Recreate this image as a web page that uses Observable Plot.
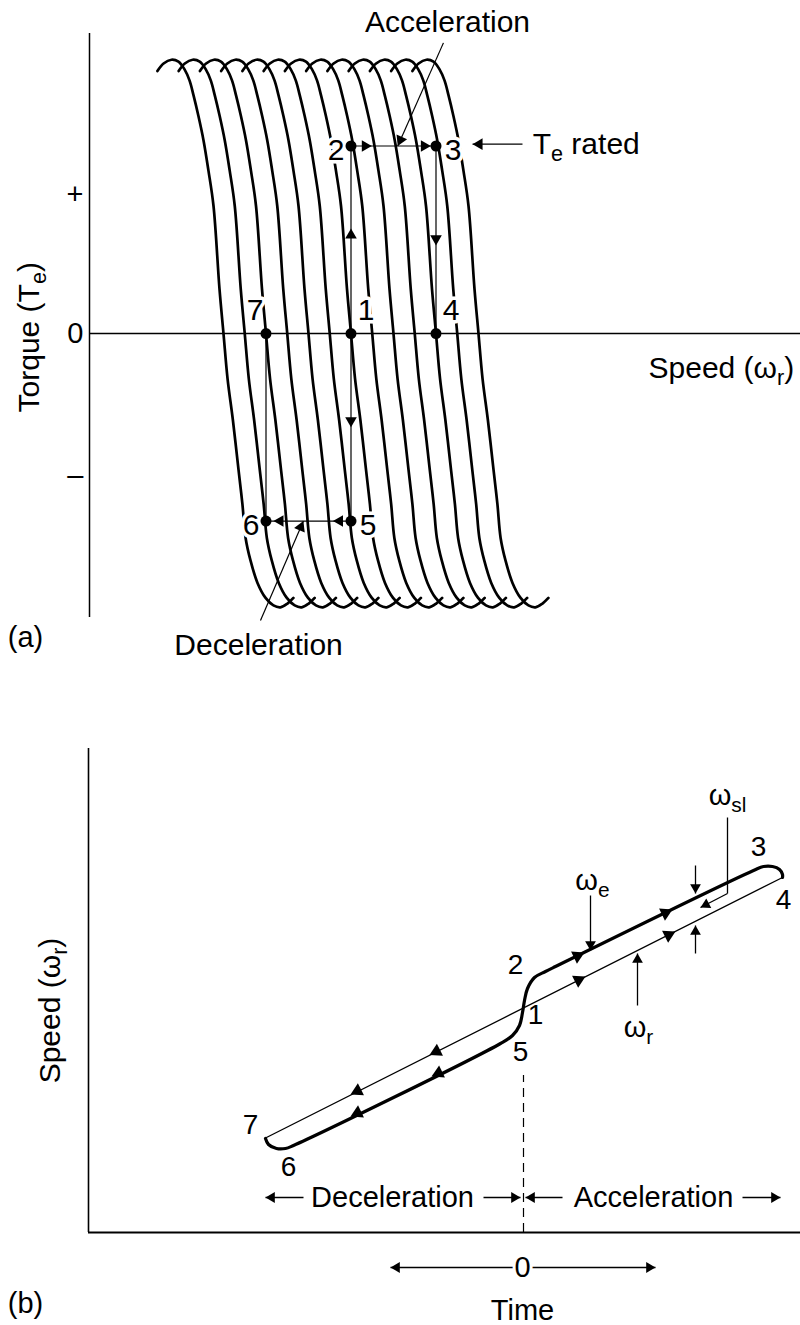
<!DOCTYPE html>
<html><head><meta charset="utf-8">
<script src="https://cdn.jsdelivr.net/npm/d3@7"></script>
<script src="https://cdn.jsdelivr.net/npm/@observablehq/plot@0.6"></script>
<style>
html,body{margin:0;padding:0;background:#fff;}
#chart svg{display:block;}
</style></head><body><div id="chart"></div>
<script>
// ================= DATA =================
// Panel (a): torque-speed curves, one per synchronous speed (curve spacing = 1 speed unit)
const syncSpeeds = [0,1,2,3,4,5,6,7,8,9,10,11,12];
// shape of one curve: speed offset from its synchronous speed, torque (rated = 1)
const curveSlip   = [-3.11,-2.82,-2.45,-2.12,-1.84,-1.60,-1.41,-1.18,-0.94,-0.71,-0.47,-0.19,0,0.19,0.44,0.71,0.89,1.04,1.27,1.60,1.98,2.35,2.68,3.01,3.29];
const curveTorque = [1.40,1.44,1.46,1.45,1.41,1.35,1.27,1.16,1.03,0.87,0.68,0.24,0,-0.24,-0.46,-0.73,-0.91,-1.09,-1.21,-1.33,-1.41,-1.45,-1.46,-1.44,-1.41];
// operating points
const stateIds    = ["1","2","3","4","5","6","7"];
const stateSpeed  = [6,6,10,10,6,2,2];
const stateTorque = [0,1,1,0,-1,-1,0];
const stateLabelSide = ["ne","w","e","ne","e","w","nw"];
const pathPairs = [["1","2"],["2","3"],["3","4"],["1","5"],["5","6"],["6","7"]];
// arrow heads on the path: [tipSpeed, tipTorque, fromSpeed, fromTorque]
const aPathHeads = [[6,0.56,6,0],[6.98,1,6,1],[9.76,1,6,1],[10,0.47,10,1],[6,-0.5,6,0],[5.15,-1,6,-1],[2.35,-1,6,-1]];
// y tick labels
const aTickValues = [0.74, 0, -0.76];
const aTickLabels = ["+", "0", "\u2013"];
// annotations
const aNoteText   = ["Acceleration", "Deceleration"];
const aNoteX      = [10.54, 1.65];
const aNoteY      = [1.659, -1.664];
const ratedText = "T_{e} rated", ratedX = 14.55, ratedY = 1.01;
const aNoteFrom   = [[10.35,1.55],[1.74,-1.53],[14.07,1.01]];
const aNoteTip    = [[8.2,1.0],[3.76,-1.0],[11.72,1.01]];

// Panel (b): speed vs time
const rotorTime  = [-5.14, 5.2];
const rotorSpeed = [1.89, 7.10];
const statorTime  = [-5.14,-5.08,-4.92,-4.74,-4.58,-0.44,-0.2,-0.06,0,0.04,0.1,0.24,0.46,0.66,4.62,4.82,5.0,5.14,5.2,5.2];
const statorSpeed = [1.88,1.76,1.68,1.68,1.74,3.78,3.94,4.14,4.40,4.64,4.88,5.10,5.22,5.32,7.24,7.32,7.32,7.26,7.16,7.10];
// arrow heads on the two traces: [tipTime, tipSpeed, fromTime, fromSpeed]
const bLineHeads = [
  [1.24,5.60,0.66,5.32],[3.0,6.46,0.66,5.32],
  [1.26,5.12,-5.14,1.89],[3.06,6.02,-5.14,1.89],
  [-1.82,3.12,-0.44,3.78],[-3.44,2.32,-0.44,3.78],
  [-1.86,3.55,5.2,7.1],[-3.44,2.76,5.2,7.1]
];
// leader arrows: [tipTime, tipSpeed, fromTime, fromSpeed]
const bLeaders = [
  [1.36,5.64,1.36,6.74],[2.3,5.58,2.3,4.54],[3.56,6.5,4.1,6.78],
  [3.46,6.78,3.46,7.34],[3.46,6.14,3.46,5.58],
  [-5.14,0.7,-4.38,0.7],[-0.04,0.7,-0.78,0.7],[0.06,0.7,0.8,0.7],[5.16,0.7,4.4,0.7],
  [-2.64,-0.7,-0.18,-0.7],[2.66,-0.7,0.18,-0.7]
];
const bExtraSegments = [[4.1,8.3,4.1,6.78]];
const bPointLabels = ["2","1","5","3","4","7","6"];
const bPointTime   = [-0.14,0.26,-0.04,4.72,5.22,-5.44,-4.68];
const bPointSpeed  = [5.34,4.34,3.6,7.7,6.64,2.14,1.3];
const bNoteText = ["\u03c9_{e}", "\u03c9_{r}", "\u03c9_{sl}", "Deceleration", "Acceleration", "0", "Time"];
const bNoteTime = [1.4, 2.32, 4.1, -2.6, 2.62, 0, 0];
const bNoteSpeed = [7.04, 4.1, 8.74, 0.7, 0.7, -0.7, -1.56];
const bDashTime = 0.02, bDashTop = 3.14;

// ================= LAYOUT =================
const FONT = "'Liberation Sans', Arial, Helvetica, sans-serif";
const W = 800;
const aH = 700, aML = 89;
const aXdom = [-6.306, 27.153], aYdom = [-1.957, 1.776];
const bH = 625, bML = 88;
const bXdom = [-8.68, 5.56], bYdom = [-1.86, 10.64];

function headsFor(list, sx, sy, r) {
  const tipDist = 2 * Math.sqrt(Math.PI * r * r / (Math.sqrt(3) * 3));
  return list.map(([x, y, fx, fy]) => {
    const px = sx.apply(x), py = sy.apply(y), qx = sx.apply(fx), qy = sy.apply(fy);
    const dx = px - qx, dy = py - qy, L = Math.hypot(dx, dy);
    const ux = dx / L, uy = dy / L;
    return {x: sx.invert(px - ux * tipDist), y: sy.invert(py - uy * tipDist),
            rot: Math.atan2(ux, -uy) * 180 / Math.PI};
  });
}
const style = {fontFamily: FONT, fontSize: "29px", background: "white", color: "black", overflow: "visible"};

// ---------- Panel (a) ----------
const aCurves = syncSpeeds.flatMap(s => curveSlip.map((d, i) => ({speed: s + d, torque: curveTorque[i], curve: s})));
const states = stateIds.map((id, i) => ({id, speed: stateSpeed[i], torque: stateTorque[i], side: stateLabelSide[i]}));
const byId = Object.fromEntries(states.map(s => [s.id, s]));
const aLinks = pathPairs.map(([a, b]) => ({x1: byId[a].speed, y1: byId[a].torque, x2: byId[b].speed, y2: byId[b].torque}));
const aNotes = aNoteText.map((t, i) => ({t, x: aNoteX[i], y: aNoteY[i]}));
const aNoteLinks = aNoteFrom.map((f, i) => ({x1: f[0], y1: f[1], x2: aNoteTip[i][0], y2: aNoteTip[i][1]}));
const sxA = Plot.scale({x: {domain: aXdom, range: [aML, W]}});
const syA = Plot.scale({y: {domain: aYdom, range: [aH, 0]}});
const aHeads = headsFor(aPathHeads.concat(aNoteTip.map((t, i) => [t[0], t[1], aNoteFrom[i][0], aNoteFrom[i][1]])), sxA, syA, 4.3);
const offs = {w: [-15, 4], e: [17, 4], ne: [15, -23], nw: [-11, -23]};
const halo = {stroke: "white", strokeWidth: 7, paintOrder: "stroke", fontSize: 30, fill: "black"};

const plotA = Plot.plot({
  width: W, height: aH, marginLeft: aML, marginRight: 0, marginTop: 0, marginBottom: 0,
  x: {domain: aXdom, axis: null}, y: {domain: aYdom, axis: null}, style,
  marks: [
    Plot.ruleX([aXdom[0]], {y1: 1.6, y2: -1.515, strokeWidth: 1.5}),
    Plot.ruleY([0], {strokeWidth: 1.4}),
    Plot.axisY(aTickValues, {tickFormat: d => aTickLabels[aTickValues.indexOf(d)], tickSize: 0, tickPadding: 6, fontSize: 29, label: null}),
    Plot.line(aCurves, {x: "speed", y: "torque", z: "curve", curve: "catmull-rom", stroke: "black", strokeWidth: 2.7}),
    ...Object.entries(offs).map(([side, [dx, dy]]) =>
      Plot.text(states.filter(s => s.side === side), {x: "speed", y: "torque", text: "id", dx, dy, ...halo})),
    Plot.link(aLinks, {x1: "x1", y1: "y1", x2: "x2", y2: "y2", stroke: "black", strokeWidth: 1.2}),
    Plot.link(aNoteLinks, {x1: "x1", y1: "y1", x2: "x2", y2: "y2", stroke: "black", strokeWidth: 1.2}),
    Plot.dot(states, {x: "speed", y: "torque", r: 5.5, fill: "black"}),
    Plot.dot(aHeads, {x: "x", y: "y", rotate: "rot", symbol: "triangle", r: 4.3, fill: "black", stroke: "none"}),
    Plot.text(aNotes, {x: "x", y: "y", text: "t", fontSize: 30}),
    Plot.text([ratedText], {x: ratedX, y: ratedY, text: d => d, textAnchor: "start", fontSize: 30}),
    Plot.text(["Speed (\u03c9_{r})"], {x: 20.0, y: -0.187, text: d => d, textAnchor: "start", fontSize: 30}),
    Plot.text(["Torque (T_{e})"], {x: -9.13, y: -0.02, text: d => d, rotate: -90, fontSize: 30}),
    Plot.text(["(a)"], {x: -9.32, y: -1.621, text: d => d, fontSize: 29})
  ]
});

// ---------- Panel (b) ----------
const rotor = rotorTime.map((t, i) => ({t, w: rotorSpeed[i]}));
const stator = statorTime.map((t, i) => ({t, w: statorSpeed[i]}));
const sxB = Plot.scale({x: {domain: bXdom, range: [bML, W]}});
const syB = Plot.scale({y: {domain: bYdom, range: [bH, 0]}});
const bTraceHeads = headsFor(bLineHeads, sxB, syB, 5);
const bLeaderHeads = headsFor(bLeaders, sxB, syB, 4);
const bLinks = bLeaders.map(([x2, y2, x1, y1]) => ({x1, y1, x2, y2}))
  .concat(bExtraSegments.map(([x1, y1, x2, y2]) => ({x1, y1, x2, y2})));
const bPts = bPointLabels.map((l, i) => ({l, t: bPointTime[i], w: bPointSpeed[i]}));
const bNotes = bNoteText.map((l, i) => ({l, t: bNoteTime[i], w: bNoteSpeed[i]}));

const plotB = Plot.plot({
  width: W, height: bH, marginLeft: bML, marginRight: 0, marginTop: 0, marginBottom: 0,
  x: {domain: bXdom, axis: null}, y: {domain: bYdom, axis: null}, style,
  marks: [
    Plot.ruleX([bXdom[0]], {y1: 0, y2: 9.68, strokeWidth: 1.6}),
    Plot.ruleY([0], {strokeWidth: 1.8}),
    Plot.ruleX([bDashTime], {y1: 0, y2: bDashTop, strokeWidth: 1.2, strokeDasharray: "9,6"}),
    Plot.line(rotor, {x: "t", y: "w", stroke: "black", strokeWidth: 1.3}),
    Plot.line(stator, {x: "t", y: "w", curve: "catmull-rom", stroke: "black", strokeWidth: 3.2}),
    Plot.link(bLinks, {x1: "x1", y1: "y1", x2: "x2", y2: "y2", stroke: "black", strokeWidth: 1.3}),
    Plot.dot(bTraceHeads, {x: "x", y: "y", rotate: "rot", symbol: "triangle", r: 5, fill: "black", stroke: "none"}),
    Plot.dot(bLeaderHeads, {x: "x", y: "y", rotate: "rot", symbol: "triangle", r: 4, fill: "black", stroke: "none"}),
    Plot.text(bPts, {x: "t", y: "w", text: "l", fontSize: 28}),
    Plot.text(bNotes, {x: "t", y: "w", text: "l", fontSize: 29, fill: "black", stroke: "white", strokeWidth: 6, paintOrder: "stroke"}),
    Plot.text(["Speed (\u03c9_{r})"], {x: -9.44, y: 4.44, text: d => d, rotate: -90, fontSize: 30}),
    Plot.text(["(b)"], {x: -9.94, y: -1.42, text: d => d, fontSize: 29})
  ]
});

const root = document.getElementById("chart");
root.appendChild(plotA);
root.appendChild(plotB);

// subscripts: turn "_{..}" into lowered, smaller tspans
function subscripts(svg) {
  svg.querySelectorAll("text").forEach(t => {
    const s = t.textContent;
    if (!s.includes("_{")) return;
    const fs = parseFloat(getComputedStyle(t).fontSize) || 28;
    const shift = fs * 0.24;
    const parts = s.split(/(_\{[^}]*\})/).filter(p => p);
    while (t.firstChild) t.removeChild(t.firstChild);
    let down = false;
    parts.forEach(p => {
      const ts = document.createElementNS("http://www.w3.org/2000/svg", "tspan");
      if (p.startsWith("_{")) {
        ts.textContent = p.slice(2, -1);
        ts.setAttribute("font-size", (fs * 0.72) + "px");
        ts.setAttribute("dy", shift + "px");
        down = true;
      } else {
        ts.textContent = p;
        if (down) { ts.setAttribute("dy", (-shift) + "px"); down = false; }
      }
      t.appendChild(ts);
    });
  });
}
subscripts(plotA);
subscripts(plotB);
</script>
</body></html>
